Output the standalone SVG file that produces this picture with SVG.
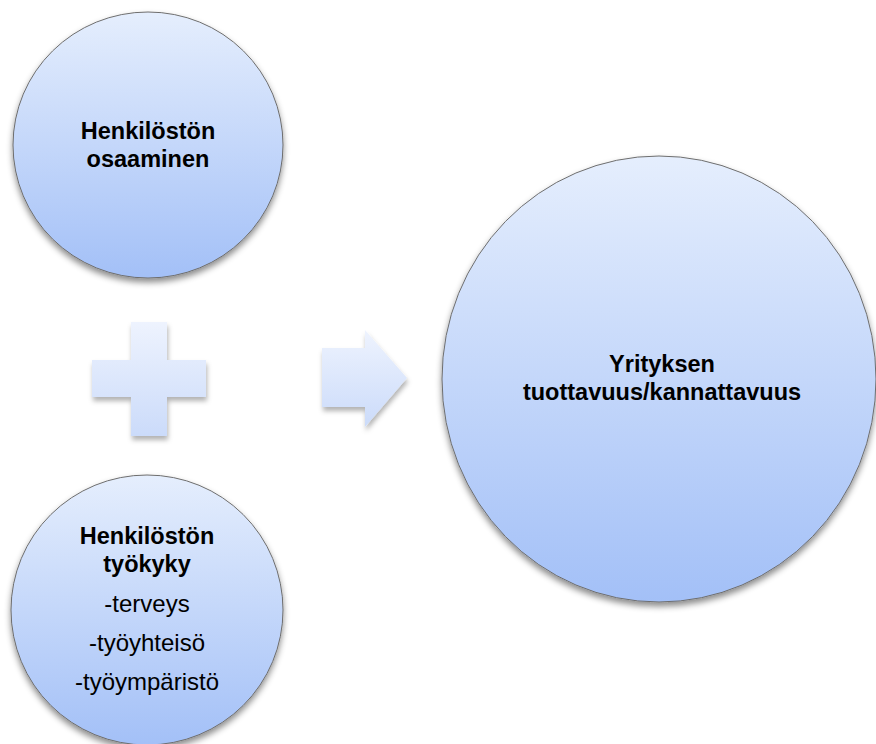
<svg xmlns="http://www.w3.org/2000/svg" width="876" height="744" viewBox="0 0 876 744">
  <defs>
    <linearGradient id="bubble" x1="0" y1="0" x2="0" y2="1">
      <stop offset="0" stop-color="#e5eefd"/>
      <stop offset="1" stop-color="#a3c0f7"/>
    </linearGradient>
    <linearGradient id="symbol" x1="0" y1="0" x2="0" y2="1">
      <stop offset="0" stop-color="#eef3fe"/>
      <stop offset="1" stop-color="#cbdbfa"/>
    </linearGradient>
    <filter id="shadow" x="-10%" y="-10%" width="120%" height="125%">
      <feDropShadow dx="0" dy="4" stdDeviation="3" flood-color="#000" flood-opacity="0.45"/>
    </filter>
    <filter id="softshadow" x="-20%" y="-20%" width="140%" height="140%">
      <feDropShadow dx="1" dy="4" stdDeviation="2.5" flood-color="#000" flood-opacity="0.3"/>
    </filter>
  </defs>
  <style>
    .circle { fill: url(#bubble); stroke: #6e6e6e; stroke-width: 1; filter: url(#shadow); }
    .sym { fill: url(#symbol); filter: url(#softshadow); }
    text { font-family: "Liberation Sans", Arial, sans-serif; fill: #000; text-anchor: middle; }
    .b { font-weight: bold; font-size: 23.5px; }
    .r { font-size: 24px; }
  </style>

  <rect width="876" height="744" fill="#ffffff"/>

  <g id="osaaminen">
    <ellipse class="circle" cx="148" cy="145" rx="135" ry="133"/>
    <text class="b" x="148" y="139">Henkilöstön</text>
    <text class="b" x="148" y="167">osaaminen</text>
  </g>

  <g id="tyokyky">
    <ellipse class="circle" cx="147" cy="610" rx="136" ry="135"/>
    <text class="b" x="147" y="544">Henkilöstön</text>
    <text class="b" x="147" y="572">työkyky</text>
    <text class="r" x="147" y="612">-terveys</text>
    <text class="r" x="147" y="651">-työyhteisö</text>
    <text class="r" x="147" y="690">-työympäristö</text>
  </g>

  <g id="kannattavuus">
    <ellipse class="circle" cx="659" cy="379" rx="217" ry="223"/>
    <text class="b" x="662" y="372">Yrityksen</text>
    <text class="b" x="662" y="400">tuottavuus/kannattavuus</text>
  </g>

  <g id="connectors">
    <path id="plus" class="sym" d="M131,322 H167 V360 H206 V397 H167 V436 H131 V397 H92 V360 H131 Z"/>
    <path id="arrow" class="sym" d="M322,348 H365 V330 L407,378 L365,427 V407 H322 Z"/>
  </g>
</svg>
